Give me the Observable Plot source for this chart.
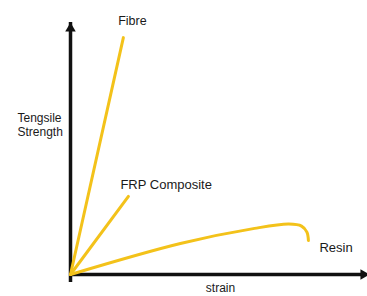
<!DOCTYPE html>
<html>
<head>
<meta charset="utf-8">
<script src="https://cdn.jsdelivr.net/npm/d3@7"></script>
<script src="https://cdn.jsdelivr.net/npm/@observablehq/plot@0.6"></script>
<style>
  html, body { margin: 0; padding: 0; background: #fff; }
  #chart svg { display: block; }
</style>
</head>
<body>
<div id="chart"></div>
<script>
// Data (strain, strength) in arbitrary units
const fibreStrain = [0, 17.8];
const fibreStrength = [0, 94];
const frpStrain = [0, 19.5];
const frpStrength = [0, 31];
const resinStrain = [0, 37, 62, 73.5, 77.8, 79.6, 80.1];
const resinStrength = [0, 12.3, 18.3, 20.0, 19.2, 16.8, 13.5];
const seriesNames = ["Fibre", "FRP Composite", "Resin"];
const axisLabelX = "strain";
const axisLabelY = "Tengsile\nStrength";

const toPts = (xs, ys) => xs.map((x, i) => ({x, y: ys[i]}));
const fibre = toPts(fibreStrain, fibreStrength);
const frp = toPts(frpStrain, frpStrength);
const resin = toPts(resinStrain, resinStrength);

const gold = "#f3c21a";
const font = "Liberation Sans, Arial, sans-serif";

const chart = Plot.plot({
  width: 367,
  height: 296,
  marginLeft: 70,
  marginRight: 0,
  marginTop: 22,
  marginBottom: 22,
  x: {domain: [0, 100], axis: null},
  y: {domain: [0, 100], axis: null},
  style: {fontFamily: font, background: "white"},
  marks: [
    // axes
    Plot.ruleX([0], {y1: 0, y2: 100, stroke: "#111", strokeWidth: 3.5, insetTop: 8}),
    Plot.ruleY([0], {x1: 0, x2: 100, stroke: "#111", strokeWidth: 3.5, insetRight: 6}),
    Plot.dot([{x: 0, y: 100}], {x: "x", y: "y", symbol: "triangle", r: 3.9, fill: "#111", stroke: null, dy: 6}),
    Plot.dot([{x: 100, y: 0}], {x: "x", y: "y", symbol: "triangle", r: 3.9, fill: "#111", stroke: null, rotate: 90, dx: -4}),
    // curves
    Plot.line(fibre, {x: "x", y: "y", stroke: gold, strokeWidth: 3}),
    Plot.line(frp, {x: "x", y: "y", stroke: gold, strokeWidth: 3}),
    Plot.line(resin, {x: "x", y: "y", stroke: gold, strokeWidth: 3, curve: "catmull-rom"}),
    // series labels
    Plot.text([fibre[1]], {x: "x", y: "y", text: [seriesNames[0]], dx: 9, dy: -17, fontSize: 12.5, fill: "#1a1a1a"}),
    Plot.text([frp[1]], {x: "x", y: "y", text: [seriesNames[1]], textAnchor: "start", dx: -8, dy: -12, fontSize: 13, fill: "#1a1a1a"}),
    Plot.text([resin[resin.length - 1]], {x: "x", y: "y", text: [seriesNames[2]], textAnchor: "start", dx: 11, dy: 7, fontSize: 13, fill: "#1a1a1a"}),
    // axis labels
    Plot.text([{x: 0, y: 59.5}], {x: "x", y: "y", text: [axisLabelY], textAnchor: "start", dx: -53, fontSize: 12, lineHeight: 1.15, fill: "#1a1a1a"}),
    Plot.text([{x: 50.5, y: 0}], {x: "x", y: "y", text: [axisLabelX], dy: 14, fontSize: 12, fill: "#1a1a1a"})
  ]
});
document.getElementById("chart").appendChild(chart);
</script>
</body>
</html>
